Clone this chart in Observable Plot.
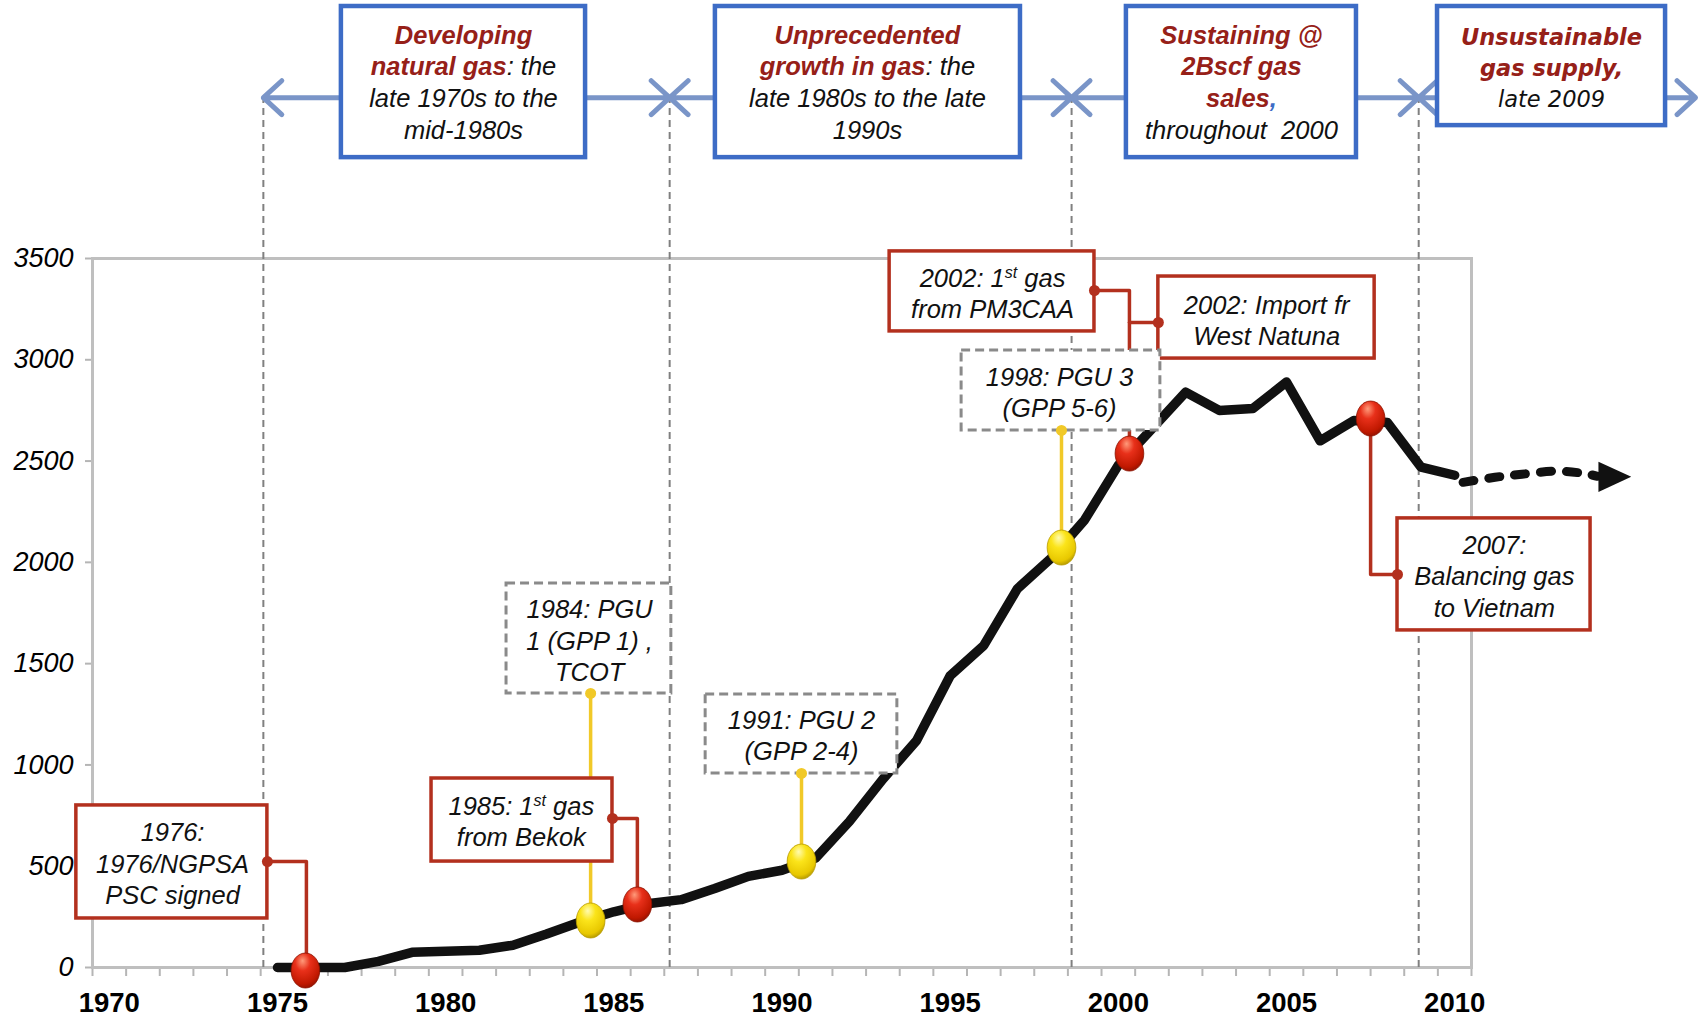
<!DOCTYPE html>
<html><head><meta charset="utf-8">
<script src="https://cdn.jsdelivr.net/npm/d3@7"></script>
<script src="https://cdn.jsdelivr.net/npm/@observablehq/plot@0.6"></script>
<style>body{margin:0;background:#fff} svg{display:block}</style>
</head><body><div id="chart"></div>
<script>
// ---- data ----
const years = [1975,1976,1977,1978,1979,1980,1981,1982,1983,1984,1985,1986,1987,1988,1989,1990,1991,1992,1993,1994,1995,1996,1997,1998,1999,2000,2001,2002,2003,2004,2005,2006,2007,2008,2009,2010];
const sales = [0,0,0,30,75,80,85,110,165,225,275,315,335,390,450,480,540,720,930,1120,1440,1590,1870,2020,2210,2480,2660,2840,2750,2760,2890,2600,2700,2690,2470,2430];
const projYears = [2010.25,2011.2,2012.0,2013.0,2013.8,2014.25];
const projValues = [2395,2420,2435,2450,2440,2425];
const arrowHead = [{x:2014.75, y:2422}];
const xTickYears = [1970,1975,1980,1985,1990,1995,2000,2005,2010];
const yTicks = [0,500,1000,1500,2000,2500,3000,3500];

const phaseBounds = [1974.58,1986.66,1998.61,2008.93,2017.16];
const bannerY = 4294;
const bannerBoxes = [
  {label:"**Developing**\n**natural gas**: the\nlate 1970s to the\nmid-1980s", x1:1976.90, x2:1984.16, tx:1980.53, y1:3998, y2:4744, ty:4376},
  {label:"**Unprecedented**\n**growth in gas**: the\nlate 1980s to the late\n1990s", x1:1988.02, x2:1997.09, tx:1992.54, y1:3998, y2:4744, ty:4376},
  {label:"**Sustaining @**\n**2Bscf gas**\n**sales**{,}\nthroughout  2000", x1:2000.24, x2:2007.08, tx:2003.66, y1:3998, y2:4744, ty:4376},
  {label:"**Unsustainable**\n**gas supply,**\nlate 2009", x1:2009.49, x2:2016.27, tx:2012.88, y1:4156, y2:4744, ty:4452}
];

const redBoxes = [
  {label:"1976:\n1976/NGPSA\nPSC signed", x1:1969.02, x2:1974.70, y1:242, y2:800, tx:1971.88, ty:518},
  {label:"1985: 1^st^ gas\nfrom Bekok", x1:1979.58, x2:1984.96, y1:523, y2:933, tx:1982.25, ty:726},
  {label:"2002: 1^st^ gas\nfrom PM3CAA", x1:1993.2, x2:1999.29, y1:3140, y2:3535, tx:1996.26, ty:3332},
  {label:"2002: Import fr\nWest Natuna", x1:2001.19, x2:2007.62, y1:3006, y2:3411, tx:2004.41, ty:3199},
  {label:"2007:\nBalancing gas\nto Vietnam", x1:2008.30, x2:2014.04, y1:1664, y2:2217, tx:2011.18, ty:1935}
];
const greyBoxes = [
  {label:"1984: PGU\n1 (GPP 1) ,\nTCOT", x1:1981.81, x2:1986.71, y1:1353, y2:1896, tx:1984.28, ty:1619},
  {label:"1991: PGU 2\n(GPP 2-4)", x1:1987.73, x2:1993.43, y1:958, y2:1348, tx:1990.58, ty:1148},
  {label:"1998: PGU 3\n(GPP 5-6)", x1:1995.34, x2:2001.25, y1:2651, y2:3046, tx:1998.25, ty:2841}
];
const redMarkers = [{x:1975.83,y:-15},{x:1985.70,y:311},{x:2000.33,y:2537},{x:2007.50,y:2710}];
const yellowMarkers = [{x:1984.31,y:232},{x:1990.58,y:523},{x:1998.31,y:2073}];
const redConnectors = [
  {id:"A",x:1974.70,y:523},{id:"A",x:1975.86,y:523},{id:"A",x:1975.86,y:-15},
  {id:"C",x:1984.96,y:736},{id:"C",x:1985.70,y:736},{id:"C",x:1985.70,y:311},
  {id:"F",x:1999.29,y:3342},{id:"F",x:2000.33,y:3342},{id:"F",x:2000.33,y:2537},
  {id:"G",x:2000.33,y:3184},{id:"G",x:2001.19,y:3184},
  {id:"H",x:2008.30,y:1940},{id:"H",x:2007.50,y:1940},{id:"H",x:2007.50,y:2710}
];
const redConnectorDots = [{x:1974.70,y:523},{x:1984.96,y:736},{x:1999.29,y:3342},{x:2001.19,y:3184},{x:2008.30,y:1940}];
const yellowConnectors = [
  {x:1984.31,y1:1353,y2:232},{x:1990.58,y1:958,y2:523},{x:1998.31,y1:2651,y2:2073}
];

// ---- styles ----
const RED = "#b3301e", TXTRED = "#962018", BLUE = "#3d6cc6", ARROW = "#7a95c8", YEL = "#f1c928";
const serie = years.map((y,i)=>({x:y, y:sales[i]}));
const proj = projYears.map((y,i)=>({x:y, y:projValues[i]}));
const bannerArrows = [];
for (let i=0;i<phaseBounds.length-1;i++){
  const a=phaseBounds[i], b=phaseBounds[i+1], m=(a+b)/2;
  bannerArrows.push({x1:m,x2:a},{x1:m,x2:b});
}
const ellipse = {draw(ctx,size){const r=Math.sqrt(size/Math.PI), rx=r*0.82, ry=r, k=0.5523;
  ctx.moveTo(0,-ry);
  ctx.bezierCurveTo(k*rx,-ry,rx,-k*ry,rx,0);
  ctx.bezierCurveTo(rx,k*ry,k*rx,ry,0,ry);
  ctx.bezierCurveTo(-k*rx,ry,-rx,k*ry,-rx,0);
  ctx.bezierCurveTo(-rx,-k*ry,-k*rx,-ry,0,-ry);
  ctx.closePath();}};
const triRight = {draw(ctx,size){const r=Math.sqrt(size/Math.PI);
  ctx.moveTo(-r,-r*0.95); ctx.lineTo(r*1.05,0); ctx.lineTo(-r,r*0.95); ctx.closePath();}};

const FONT = "Liberation Sans";
const plot = Plot.plot({
  width:1698, height:1017,
  marginLeft:92, marginRight:227, marginTop:258, marginBottom:50,
  x:{type:"linear", domain:[1969.5,2010.5]},
  y:{type:"linear", domain:[0,3500]},
  style:{fontFamily:FONT, background:"#fff", overflow:"visible"},
  marks:[
    Plot.axisX({ticks:d3.range(1969.5,2011,1), tickSize:9, tickFormat:()=>"", stroke:"#b5b5b5", strokeWidth:2}),
    Plot.axisX({ticks:xTickYears, tickSize:0, tickPadding:25, tickFormat:d=>String(d), fontWeight:"bold", fontSize:27.5, fill:"#000"}),
    Plot.axisY({ticks:yTicks, tickSize:7, tickPadding:12, tickFormat:d=>String(d), fontStyle:"italic", fontSize:27, stroke:"#b5b5b5", strokeWidth:2, fill:"#000"}),
    Plot.frame({stroke:"#bfbfbf", strokeWidth:3}),
    Plot.ruleX(phaseBounds.slice(0,4), {y1:0, y2:bannerY, stroke:"#808080", strokeWidth:2, strokeDasharray:"7,5"}),
    Plot.arrow(bannerArrows, {x1:"x1", x2:"x2", y1:bannerY, y2:bannerY, stroke:ARROW, strokeWidth:5, headLength:7.5, headAngle:85}),
    Plot.rect(bannerBoxes, {x1:"x1", x2:"x2", y1:"y1", y2:"y2", fill:"#fff", stroke:BLUE, strokeWidth:4.5}),
    Plot.text(bannerBoxes.slice(0,3), {x:"tx", y:"ty", text:"label", fontStyle:"italic", fontSize:25.5, lineHeight:1.24, fill:"#111", fontFamily:FONT}),
    Plot.text(bannerBoxes.slice(3), {x:"tx", y:"ty", text:"label", fontStyle:"italic", fontSize:22.5, lineHeight:1.38, fill:"#111", fontFamily:"DejaVu Sans"}),
    Plot.line(serie, {x:"x", y:"y", stroke:"#111", strokeWidth:9.5, strokeLinejoin:"round", strokeLinecap:"round"}),
    Plot.line(proj, {x:"x", y:"y", stroke:"#111", strokeWidth:9, strokeDasharray:"11,15", curve:"catmull-rom"}),
    Plot.dot(arrowHead, {x:"x", y:"y", r:16, symbol:triRight, fill:"#111", stroke:"none"}),
    Plot.ruleX(yellowConnectors, {x:"x", y1:"y1", y2:"y2", stroke:YEL, strokeWidth:3.5}),
    Plot.line(redConnectors, {x:"x", y:"y", z:"id", stroke:RED, strokeWidth:3.5, curve:"linear"}),
    Plot.rect(redBoxes, {x1:"x1", x2:"x2", y1:"y1", y2:"y2", fill:"#fff", stroke:RED, strokeWidth:3.5}),
    Plot.rect(greyBoxes, {x1:"x1", x2:"x2", y1:"y1", y2:"y2", fill:"#fff", stroke:"#8a8a8a", strokeWidth:3, strokeDasharray:"9,5"}),
    Plot.text(redBoxes.concat(greyBoxes), {x:"tx", y:"ty", text:"label", fontStyle:"italic", fontSize:25.5, lineHeight:1.22, fill:"#111", fontFamily:FONT}),
    Plot.dot(redConnectorDots, {x:"x", y:"y", r:5.5, fill:RED, stroke:"none"}),
    Plot.dot(yellowConnectors, {x:"x", y:"y1", r:5.5, fill:YEL, stroke:"none"}),
    Plot.dot(yellowMarkers, {x:"x", y:"y", r:17.5, symbol:ellipse, fill:"url(#gYel)", stroke:"#b89a00", strokeWidth:0.8}),
    Plot.dot(redMarkers, {x:"x", y:"y", r:17.5, symbol:ellipse, fill:"url(#gRed)", stroke:"#8a1200", strokeWidth:0.8})
  ]
});

// gradients
const svg = d3.select(plot.tagName.toLowerCase()==="svg" ? plot : plot.querySelector("svg"));
const defs = svg.insert("defs", ":first-child");
function grad(id, stops){
  const g = defs.append("radialGradient").attr("id",id).attr("cx","42%").attr("cy","30%").attr("r","75%").attr("fx","40%").attr("fy","22%");
  stops.forEach(([o,c])=>g.append("stop").attr("offset",o).attr("stop-color",c));
}
grad("gRed", [["0%","#ff9a7a"],["35%","#e8301a"],["80%","#c01800"],["100%","#8a1000"]]);
grad("gYel", [["0%","#fffbb0"],["35%","#fbe41a"],["80%","#e8c800"],["100%","#a88e00"]]);

// rich text: **bold red**, ^superscript^, {blue}
const NS = "http://www.w3.org/2000/svg";
function richify(node){
  const str = node.textContent;
  if (!/\*\*|\^|\{/.test(str)) return;
  const parts = str.split(/(\*\*[^*]+\*\*|\^[^^]+\^|\{[^}]+\})/).filter(s=>s.length);
  node.textContent = "";
  let afterSup = false;
  for (const p of parts){
    const t = document.createElementNS(NS,"tspan");
    if (p.startsWith("**")) { t.textContent = p.slice(2,-2); t.setAttribute("font-weight","bold"); t.setAttribute("fill",TXTRED); }
    else if (p.startsWith("^")) { t.textContent = p.slice(1,-1); t.setAttribute("font-size","16"); t.setAttribute("dy","-9"); }
    else if (p.startsWith("{")) { t.textContent = p.slice(1,-1); t.setAttribute("font-weight","bold"); t.setAttribute("fill",BLUE); }
    else { t.textContent = p; }
    if (afterSup && !p.startsWith("^")) { t.setAttribute("dy","9"); }
    afterSup = p.startsWith("^");
    node.appendChild(t);
  }
}
svg.selectAll("text").each(function(){
  const tspans = this.querySelectorAll("tspan");
  if (tspans.length) tspans.forEach(richify); else richify(this);
});
document.getElementById("chart").appendChild(plot);
</script>
</body></html>
